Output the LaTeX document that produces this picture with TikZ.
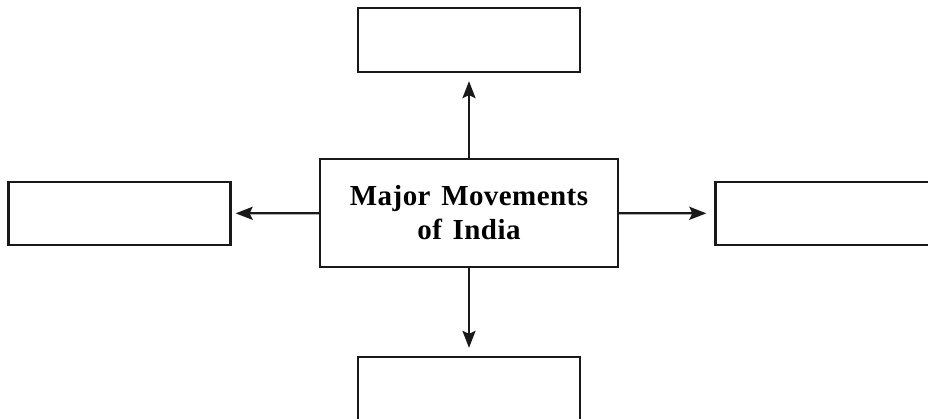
\documentclass[tikz,border=0pt]{standalone}
\usepackage{fontspec}
\setmainfont{Liberation Serif}
\usetikzlibrary{arrows.meta}
\begin{document}
\begin{tikzpicture}[x=1pt,y=1pt,
  box/.style={draw=black!90,line width=2.3pt,minimum width=222pt,minimum height=63pt,inner sep=0pt},
  conn/.style={line width=2.3pt,draw=black!90,-{Stealth[length=17pt,width=13pt,inset=3pt]},shorten >=8pt}]
\useasboundingbox (0,0) rectangle (928,418);
\node[box,minimum width=298pt,minimum height=108pt,align=center,
  font=\fontsize{29}{34}\selectfont\bfseries\addfontfeatures{LetterSpace=1.5}] (c) at (469,205)
  {Major\hspace{3pt} Movements\\of\hspace{3pt} India};
\node[box,minimum height=64pt] (t) at (469,378) {};
\node[box] (l) at (119.5,204.5) {};
\node[box] (r) at (826.5,204.5) {};
\node[box] (b) at (469,29.5) {};
\draw[conn] (c) -- (t);
\draw[conn,shorten >=4pt] (c) -- (l);
\draw[conn] (c) -- (r);
\draw[conn] (c) -- (b);
\end{tikzpicture}
\end{document}
